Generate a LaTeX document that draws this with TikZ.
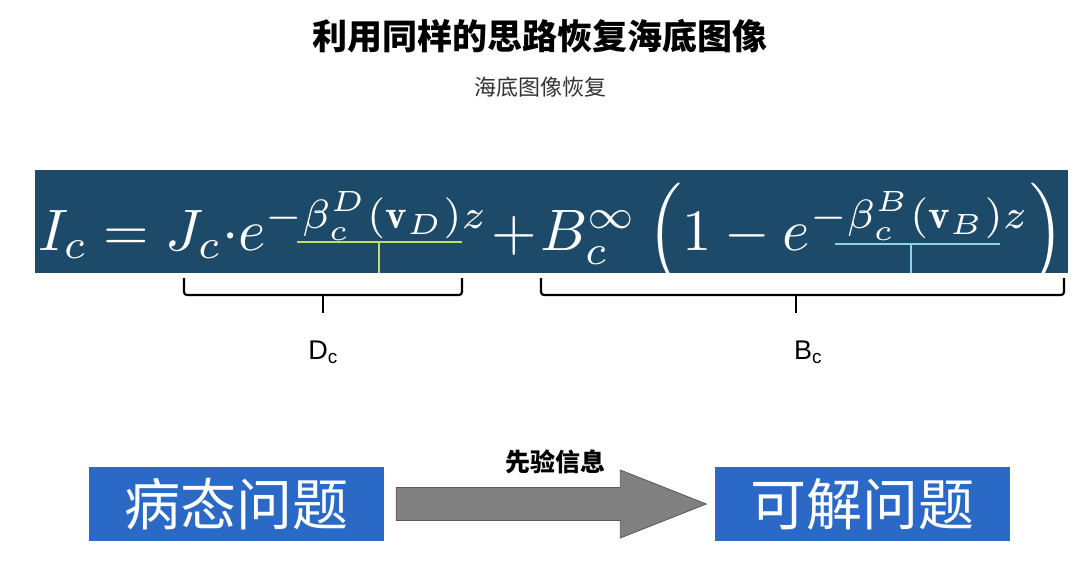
\documentclass[tikz,border=0pt]{standalone}
\usepackage{fontspec}
\usepackage{amsmath}
\usepackage{graphicx}
\setsansfont{Liberation Sans}
\newfontfamily\cjk{Noto Sans CJK SC}
\usetikzlibrary{positioning,calc}

\definecolor{bandblue}{HTML}{1C4A68}
\definecolor{boxblue}{HTML}{2A6AC6}
\definecolor{lineD}{HTML}{C6DB6E}
\definecolor{lineB}{HTML}{86D6E4}
\definecolor{arrowgray}{HTML}{808080}

\tikzset{
  problem/.style={fill=boxblue, draw=none, minimum width=295pt, minimum height=74pt,
    inner sep=0pt, text=white, font=\cjk\fontsize{56}{60}\selectfont},
  brace/.style={line width=2.2pt, rounded corners=3pt},
  bracelabel/.style={font=\sffamily\fontsize{27}{30}\selectfont},
}

\begin{document}
\begin{tikzpicture}[x=1pt, y=-1pt]
\useasboundingbox (0,0) rectangle (1080,574);

% titles
\node (title) at (540,36) {\cjk\bfseries\fontsize{35}{40}\selectfont 利用同样的思路恢复海底图像};
\node[text=black!80] (subtitle) at (540,87) {\cjk\fontsize{22}{26}\selectfont 海底图像恢复};

% formula band
\node[fill=bandblue, minimum width=1033pt, minimum height=103pt, inner sep=0pt] (band) at (551.5,221.5) {};
\node[anchor=base west, inner sep=0pt, text=white] (formula) at (38,250)
  {\resizebox{1026pt}{!}{$I_c = J_c{\cdot}e^{-\beta_c^D(\mathbf{v}_D)z}\!+\!B_c^{\infty}\left(1-e^{-\beta_c^B(\mathbf{v}_B)z}\right)$}};

% underlines
\coordinate (dl) at (297,242); \coordinate (dr) at (462,242); \coordinate (dm) at (379,242);
\coordinate (bl) at (835,244); \coordinate (br) at (1000,244); \coordinate (bm) at (911,244);
\draw[lineD, line width=1.5pt] (dl) -- (dr);
\draw[lineD, line width=1.5pt] (dm) -- (band.south -| dm);
\draw[lineB, line width=1.5pt] (bl) -- (br);
\draw[lineB, line width=1.5pt] (bm) -- (band.south -| bm);

% braces
\draw[brace] (184,278) -- (184,295) -- (462,295) -- (462,278);
\draw[brace] (323,295) -- (323,313);
\draw[brace] (541,278) -- (541,295) -- (1064,295) -- (1064,278);
\draw[brace] (796,295) -- (796,313);

\node[bracelabel] (Dc) at (323,352) {D\textsubscript{c}};
\node[bracelabel] (Bc) at (808,352) {B\textsubscript{c}};

% problems
\node[problem] (ill) at (236.5,504) {病态问题};
\node[problem] (solv) at (862,504) {可解问题};

% prior arrow
\coordinate (a0) at ($(ill.east)+(12,0)$);
\coordinate (a1) at ($(solv.west)+(-8,0)$);
\draw[fill=arrowgray, draw=black!65, line width=0.8pt]
  ($(a0)+(0,-16.5)$) -- ($(a1)+(-86,-16.5)$) -- ($(a1)+(-86,-34)$) -- (a1)
  -- ($(a1)+(-86,34)$) -- ($(a1)+(-86,16.5)$) -- ($(a0)+(0,16.5)$) -- cycle;
\node (prior) at (555,462) {\cjk\bfseries\fontsize{25}{28}\selectfont 先验信息};

\end{tikzpicture}
\end{document}
